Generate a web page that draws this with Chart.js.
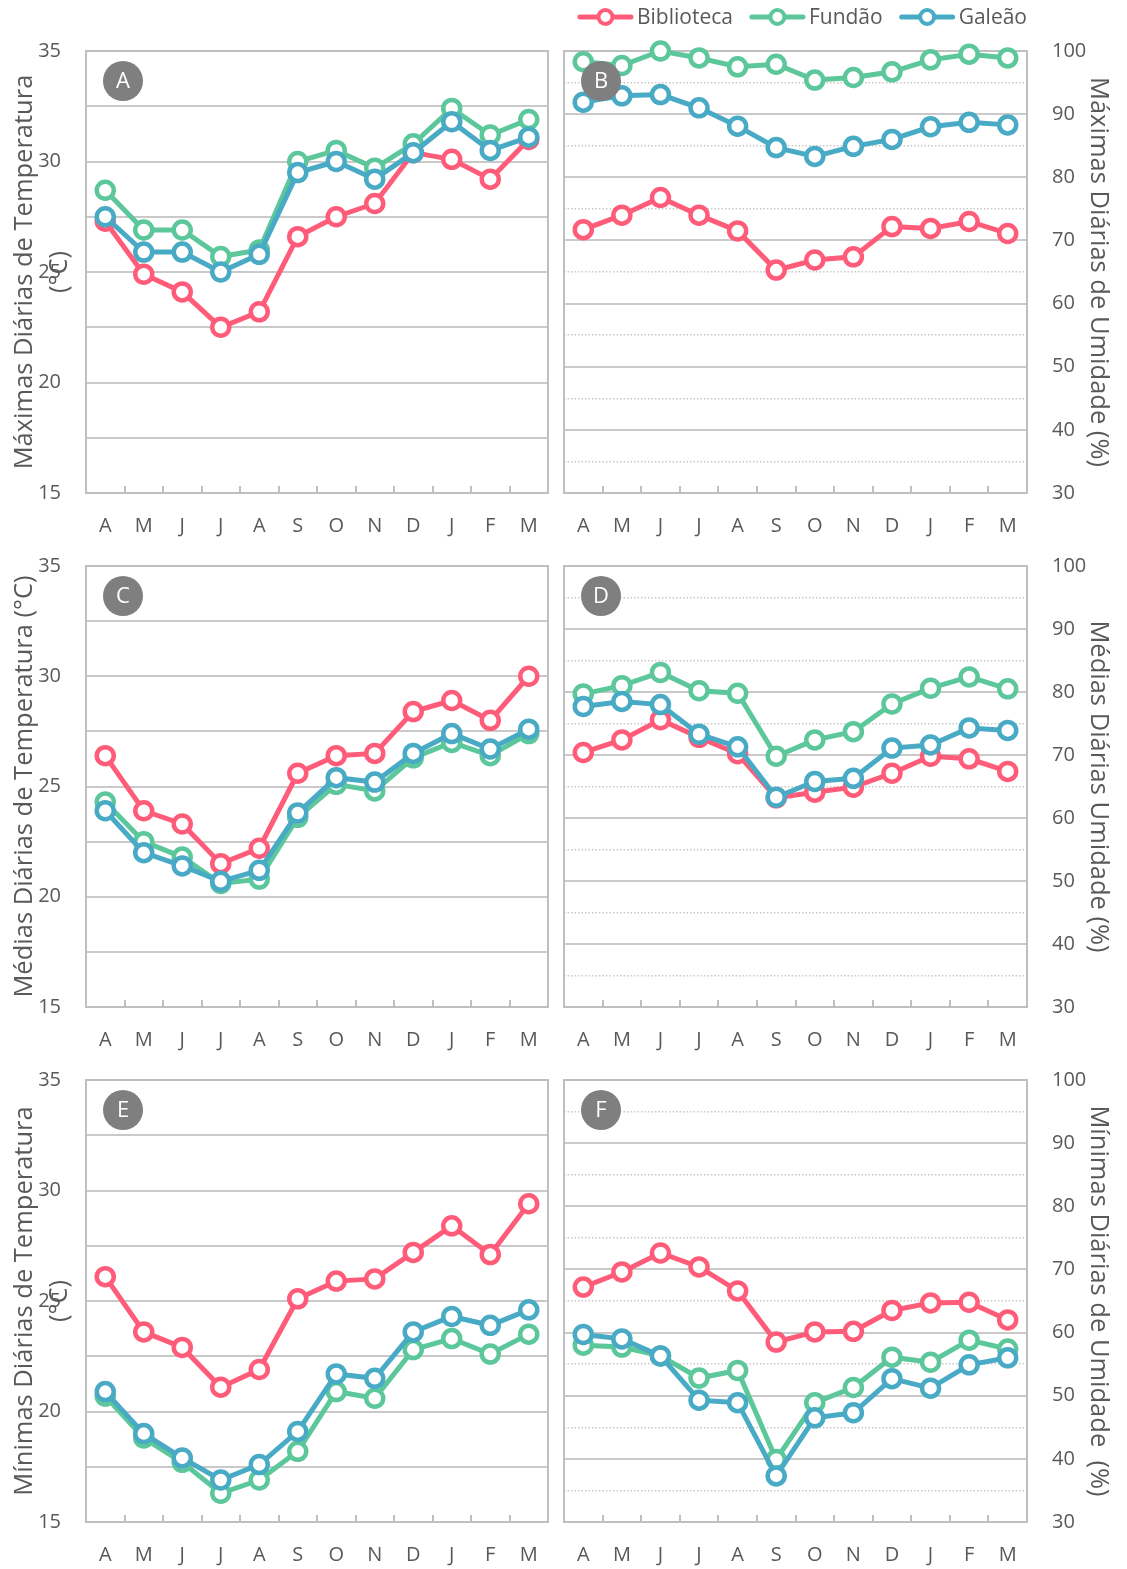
<!DOCTYPE html>
<html lang="pt">
<head>
<meta charset="utf-8">
<title>Temperatura e Umidade</title>
<script src="https://cdn.jsdelivr.net/npm/chart.js@4.4.1/dist/chart.umd.min.js"></script>
<style>
  html, body { margin: 0; padding: 0; background: #fff; }
  #wrap { position: relative; width: 1127px; height: 1569px; overflow: hidden; background: #fff; }
  #wrap canvas { position: absolute; }
</style>
</head>
<body>
<div id="wrap">
  <canvas id="chartA" width="560" height="540" style="left:0;top:0"></canvas>
  <canvas id="chartB" width="567" height="540" style="left:560px;top:0"></canvas>
  <canvas id="chartC" width="560" height="515" style="left:0;top:540px"></canvas>
  <canvas id="chartD" width="567" height="515" style="left:560px;top:540px"></canvas>
  <canvas id="chartE" width="560" height="514" style="left:0;top:1055px"></canvas>
  <canvas id="chartF" width="567" height="514" style="left:560px;top:1055px"></canvas>
</div>
<script>
const months = ['A', 'M', 'J', 'J', 'A', 'S', 'O', 'N', 'D', 'J', 'F', 'M'];
const seriesNames = ['Biblioteca', 'Fundão', 'Galeão'];
const seriesColors = ['#FF5C7A', '#5CC79A', '#48AAC4'];
const tempTicks = [15, 20, 25, 30, 35];
const humTicks = [30, 40, 50, 60, 70, 80, 90, 100];

// A - máximas de temperatura (°C)
const tMaxBiblioteca = [27.3, 24.9, 24.1, 22.5, 23.2, 26.6, 27.5, 28.1, 30.4, 30.1, 29.2, 31.0];
const tMaxFundao     = [28.7, 26.9, 26.9, 25.7, 26.0, 30.0, 30.5, 29.7, 30.8, 32.4, 31.2, 31.9];
const tMaxGaleao     = [27.5, 25.9, 25.9, 25.0, 25.8, 29.5, 30.0, 29.2, 30.4, 31.8, 30.5, 31.1];

// B - máximas de umidade (%)
const uMaxBiblioteca = [71.7, 74.0, 76.8, 74.0, 71.5, 65.3, 66.9, 67.4, 72.2, 71.9, 73.0, 71.1];
const uMaxFundao     = [98.3, 97.7, 100.0, 98.9, 97.5, 97.9, 95.4, 95.8, 96.7, 98.6, 99.5, 98.9];
const uMaxGaleao     = [91.9, 92.9, 93.1, 91.0, 88.1, 84.7, 83.3, 84.9, 86.0, 88.0, 88.7, 88.3];

// C - médias de temperatura (°C)
const tMedBiblioteca = [26.4, 23.9, 23.3, 21.5, 22.2, 25.6, 26.4, 26.5, 28.4, 28.9, 28.0, 30.0];
const tMedFundao     = [24.3, 22.5, 21.8, 20.6, 20.8, 23.6, 25.1, 24.8, 26.3, 27.0, 26.4, 27.4];
const tMedGaleao     = [23.9, 22.0, 21.4, 20.7, 21.2, 23.8, 25.4, 25.2, 26.5, 27.4, 26.7, 27.6];

// D - médias de umidade (%)
const uMedBiblioteca = [70.4, 72.4, 75.6, 72.8, 70.2, 63.2, 64.1, 64.9, 67.1, 69.8, 69.4, 67.4];
const uMedFundao     = [79.7, 81.0, 83.1, 80.2, 79.8, 69.8, 72.4, 73.7, 78.1, 80.6, 82.4, 80.5];
const uMedGaleao     = [77.7, 78.5, 78.0, 73.3, 71.3, 63.3, 65.8, 66.3, 71.1, 71.6, 74.3, 73.9];

// E - mínimas de temperatura (°C)
const tMinBiblioteca = [26.1, 23.6, 22.9, 21.1, 21.9, 25.1, 25.9, 26.0, 27.2, 28.4, 27.1, 29.4];
const tMinFundao     = [20.7, 18.8, 17.7, 16.3, 16.9, 18.2, 20.9, 20.6, 22.8, 23.3, 22.6, 23.5];
const tMinGaleao     = [20.9, 19.0, 17.9, 16.9, 17.6, 19.1, 21.7, 21.5, 23.6, 24.3, 23.9, 24.6];

// F - mínimas de umidade (%)
const uMinBiblioteca = [67.2, 69.6, 72.6, 70.4, 66.6, 58.5, 60.1, 60.2, 63.5, 64.7, 64.8, 62.0];
const uMinFundao     = [58.0, 57.7, 56.3, 52.8, 54.0, 39.9, 48.9, 51.3, 56.1, 55.3, 58.8, 57.4];
const uMinGaleao     = [59.7, 59.0, 56.3, 49.3, 48.9, 37.3, 46.5, 47.3, 52.7, 51.2, 54.9, 56.0];

const textColor = '#595959';
const gridColor = '#C9C9C9';
const fontFamily = "'Open Sans', 'DejaVu Sans', sans-serif";
Chart.defaults.font.family = fontFamily;
Chart.defaults.color = textColor;

// moldura, marcas do eixo x e etiqueta do painel
const panelDeco = {
  id: 'panelDeco',
  beforeDatasetsDraw(chart) {
    const { ctx, chartArea: a, scales: { x } } = chart;
    ctx.save();
    ctx.strokeStyle = '#BFBFBF';
    ctx.lineWidth = 2;
    for (let i = 0; i < months.length - 1; i++) {
      const xx = Math.round((x.getPixelForValue(i) + x.getPixelForValue(i + 1)) / 2);
      ctx.beginPath();
      ctx.moveTo(xx, a.bottom);
      ctx.lineTo(xx, a.bottom - 7);
      ctx.stroke();
    }
    ctx.strokeRect(a.left, a.top, a.right - a.left, a.bottom - a.top);
    ctx.restore();
  },
  afterDatasetsDraw(chart, args, opts) {
    if (!opts.badge) return;
    const { ctx, chartArea: a } = chart;
    const cx = a.left + 37, cy = a.top + 30;
    ctx.save();
    ctx.fillStyle = '#7F7F7F';
    ctx.beginPath();
    ctx.arc(cx, cy, 20, 0, Math.PI * 2);
    ctx.fill();
    ctx.fillStyle = '#fff';
    ctx.font = '22px ' + fontFamily;
    ctx.textAlign = 'center';
    ctx.textBaseline = 'middle';
    ctx.fillText(opts.badge, cx, cy + 1);
    ctx.restore();
  }
};

// legenda no topo (só no painel B)
const topLegend = {
  id: 'topLegend',
  afterDraw(chart) {
    const { ctx, chartArea: a } = chart;
    ctx.save();
    ctx.font = '21px ' + fontFamily;
    const sym = 55, gapText = 4, gapItem = 17, y = 17;
    const widths = seriesNames.map(n => ctx.measureText(n).width);
    const total = widths.reduce((s, w) => s + sym + gapText + w, 0) + gapItem * (seriesNames.length - 1);
    let x0 = a.right - total;
    seriesNames.forEach((n, i) => {
      ctx.strokeStyle = seriesColors[i];
      ctx.lineCap = 'round';
      ctx.lineWidth = 5;
      ctx.beginPath();
      ctx.moveTo(x0 + 2, y);
      ctx.lineTo(x0 + sym - 2, y);
      ctx.stroke();
      ctx.beginPath();
      ctx.arc(x0 + sym / 2, y, 7, 0, Math.PI * 2);
      ctx.fillStyle = '#fff';
      ctx.fill();
      ctx.lineWidth = 4;
      ctx.stroke();
      ctx.fillStyle = textColor;
      ctx.textAlign = 'left';
      ctx.textBaseline = 'middle';
      ctx.fillText(n, x0 + sym + gapText, y + 1);
      x0 += sym + gapText + widths[i] + gapItem;
    });
    ctx.restore();
  }
};

function makeDatasets(values) {
  return values.map((vals, i) => ({
    label: seriesNames[i],
    data: vals,
    borderColor: seriesColors[i],
    backgroundColor: '#fff',
    pointBackgroundColor: '#fff',
    pointBorderColor: seriesColors[i],
    borderWidth: 5,
    pointRadius: 8.5,
    pointBorderWidth: 4.5,
    tension: 0,
    clip: false,
    order: 3 - i
  }));
}

function makeChart(id, values, cfg) {
  const isTemp = cfg.kind === 'temp';
  const left = cfg.side === 'left';
  const tickList = isTemp ? tempTicks : humTicks;
  const twoLines = Array.isArray(cfg.title);
  const plugins = [panelDeco];
  if (cfg.legend) plugins.push(topLegend);

  new Chart(document.getElementById(id), {
    type: 'line',
    data: { labels: months, datasets: makeDatasets(values) },
    plugins: plugins,
    options: {
      responsive: false,
      animation: false,
      events: [],
      layout: {
        autoPadding: false,
        padding: { top: cfg.top, left: left ? 0 : 4, right: left ? 12 : 0, bottom: 0 }
      },
      plugins: {
        legend: { display: false },
        tooltip: { enabled: false },
        panelDeco: { badge: cfg.badge }
      },
      scales: {
        x: {
          offset: true,
          grid: { display: false },
          border: { display: false },
          ticks: { font: { size: 20 }, padding: 13, color: textColor, maxRotation: 0 },
          afterFit: s => { s.height = cfg.xh; s.paddingLeft = 0; s.paddingRight = 0; }
        },
        y: {
          position: left ? 'left' : 'right',
          min: isTemp ? 15 : 30,
          max: isTemp ? 35 : 100,
          grid: {
            drawTicks: false,
            color: gridColor,
            lineWidth: c => (isTemp || c.tick.value % 10 === 0) ? 2 : 1.5
          },
          border: {
            display: false,
            dash: c => (!isTemp && c.tick && c.tick.value % 10 !== 0) ? [1.5, 2] : []
          },
          ticks: {
            stepSize: isTemp ? 2.5 : 5,
            padding: 25,
            font: { size: 20 },
            color: textColor,
            callback: v => tickList.includes(v) ? v : ''
          },
          title: {
            display: true,
            text: cfg.title,
            color: textColor,
            font: { size: 25.5, lineHeight: twoLines ? 1.37 : 1.2 },
            padding: { top: left ? (twoLines ? 7.5 : 9.7) : 13.7, bottom: 0 }
          },
          afterFit: s => { s.width = left ? 86 : 100; s.paddingTop = 0; s.paddingBottom = 0; }
        }
      }
    }
  });
}

makeChart('chartA', [tMaxBiblioteca, tMaxFundao, tMaxGaleao], {
  kind: 'temp', side: 'left', top: 51, xh: 47, badge: 'A',
  title: ['Máximas Diárias de Temperatura', '(°C)']
});
makeChart('chartB', [uMaxBiblioteca, uMaxFundao, uMaxGaleao], {
  kind: 'hum', side: 'right', top: 51, xh: 47, badge: 'B', legend: true,
  title: 'Máximas Diárias de Umidade (%)'
});
makeChart('chartC', [tMedBiblioteca, tMedFundao, tMedGaleao], {
  kind: 'temp', side: 'left', top: 26, xh: 48, badge: 'C',
  title: 'Médias Diárias de Temperatura (°C)'
});
makeChart('chartD', [uMedBiblioteca, uMedFundao, uMedGaleao], {
  kind: 'hum', side: 'right', top: 26, xh: 48, badge: 'D',
  title: 'Médias Diárias Umidade (%)'
});
makeChart('chartE', [tMinBiblioteca, tMinFundao, tMinGaleao], {
  kind: 'temp', side: 'left', top: 25, xh: 47, badge: 'E',
  title: ['Mínimas Diárias de Temperatura', '(°C)']
});
makeChart('chartF', [uMinBiblioteca, uMinFundao, uMinGaleao], {
  kind: 'hum', side: 'right', top: 25, xh: 47, badge: 'F',
  title: 'Mínimas Diárias de Umidade  (%)'
});
</script>
</body>
</html>
